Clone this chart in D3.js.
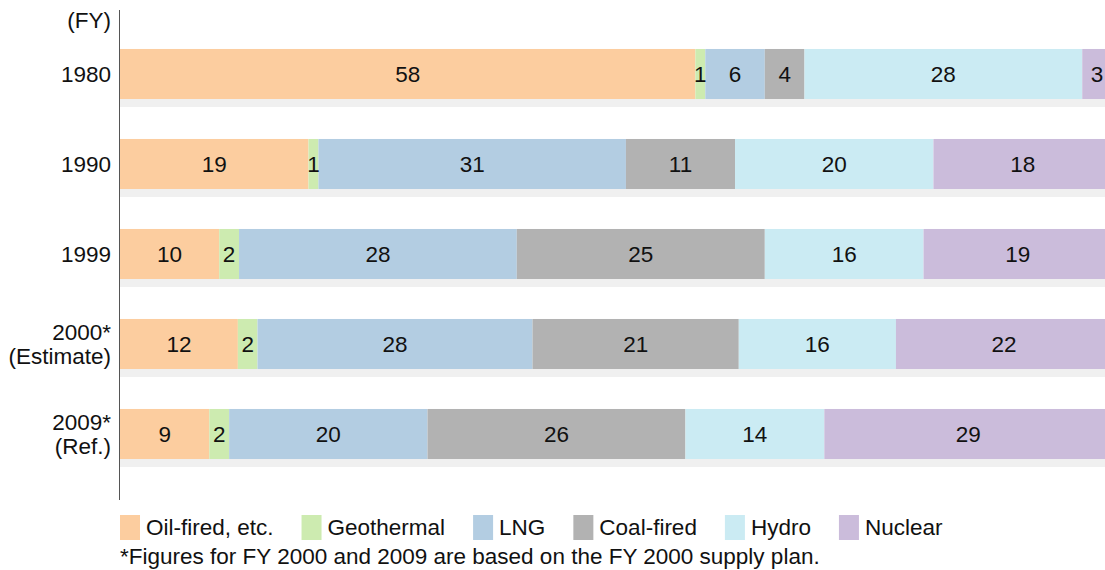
<!DOCTYPE html>
<html>
<head>
<meta charset="utf-8">
<script src="https://cdn.jsdelivr.net/npm/d3@7"></script>
<style>
  body { margin: 0; background: #fff; }
  svg { font-family: "Liberation Sans", Arial, sans-serif; }
</style>
</head>
<body>
<div id="chart"></div>
<script>
// fiscal years, with the second line of their labels
const years = ['1980', '1990', '1999', '2000*', '2009*'];
const yearNotes = ['', '', '', '(Estimate)', '(Ref.)'];

// series names and colours
const sources = ['Oil-fired, etc.', 'Geothermal', 'LNG', 'Coal-fired', 'Hydro', 'Nuclear'];
const colors = ['#fccd9f', '#cdebb0', '#b3cde2', '#b2b2b2', '#cbebf3', '#cbbcdb'];

// shares (%) per source, one value per year
const oil        = [58, 19, 10, 12,  9];
const geothermal = [ 1,  1,  2,  2,  2];
const lng        = [ 6, 31, 28, 28, 20];
const coal       = [ 4, 11, 25, 21, 26];
const hydro      = [28, 20, 16, 16, 14];
const nuclear    = [ 3, 18, 19, 22, 29];

const footnote = '*Figures for FY 2000 and 2009 are based on the FY 2000 supply plan.';

const series = [oil, geothermal, lng, coal, hydro, nuclear];
const data = years.map((y, i) => {
    const row = { year: y };
    sources.forEach((s, k) => row[s] = series[k][i]);
    return row;
});

const width = 1105, height = 570;
const left = 120;
const fontSize = 22.5;

const svg = d3.select('#chart').append('svg')
    .attr('width', width)
    .attr('height', height);

const x = d3.scaleLinear([0, 1], [left, left + 992]);
const y = d3.scaleBand(years, [29, 479]).paddingInner(0.444).paddingOuter(0.222);
const color = d3.scaleOrdinal(sources, colors);

// each row is normalised to 100 %
const stacked = d3.stack().keys(sources).offset(d3.stackOffsetExpand)(data);

// light shadow strip under each bar
svg.append('g').selectAll('rect')
    .data(years)
    .join('rect')
    .attr('x', left)
    .attr('y', d => y(d) + y.bandwidth())
    .attr('width', width - left)
    .attr('height', 8)
    .attr('fill', '#f0f0f0');

const groups = svg.append('g').selectAll('g')
    .data(stacked)
    .join('g')
    .attr('fill', d => color(d.key));

groups.selectAll('rect')
    .data(d => d)
    .join('rect')
    .attr('x', d => x(d[0]))
    .attr('y', d => y(d.data.year))
    .attr('width', d => x(d[1]) - x(d[0]))
    .attr('height', y.bandwidth());

// value labels centred in each segment
stacked.forEach(layer => {
    svg.append('g').selectAll('text')
        .data(layer)
        .join('text')
        .attr('x', d => (x(d[0]) + x(d[1])) / 2)
        .attr('y', d => y(d.data.year) + y.bandwidth() / 2)
        .attr('dy', '0.35em')
        .attr('text-anchor', 'middle')
        .attr('font-size', fontSize)
        .attr('fill', '#111')
        .text(d => d.data[layer.key]);
});

// y axis line
svg.append('line')
    .attr('x1', left - 0.5).attr('x2', left - 0.5)
    .attr('y1', 10).attr('y2', 500)
    .attr('stroke', '#555')
    .attr('stroke-width', 1);

// year labels
const yLabels = svg.append('g')
    .attr('font-size', fontSize)
    .attr('fill', '#111')
    .attr('text-anchor', 'end');

years.forEach((yr, i) => {
    const cy = y(yr) + y.bandwidth() / 2;
    if (yearNotes[i]) {
        yLabels.append('text').attr('x', 111).attr('y', cy - 12).attr('dy', '0.35em').text(yr);
        yLabels.append('text').attr('x', 111).attr('y', cy + 12).attr('dy', '0.35em').text(yearNotes[i]);
    } else {
        yLabels.append('text').attr('x', 111).attr('y', cy).attr('dy', '0.35em').text(yr);
    }
});
yLabels.append('text').attr('x', 111).attr('y', 20).attr('dy', '0.35em').text('(FY)');

// legend, laid out by text length
const legend = svg.append('g').attr('font-size', fontSize).attr('fill', '#111');
let lx = left;
sources.forEach(s => {
    legend.append('rect')
        .attr('x', lx).attr('y', 515)
        .attr('width', 20).attr('height', 25)
        .attr('fill', color(s));
    const t = legend.append('text')
        .attr('x', lx + 26).attr('y', 527.5).attr('dy', '0.35em')
        .text(s);
    lx += 26 + t.node().getComputedTextLength() + 28;
});

svg.append('text')
    .attr('x', left).attr('y', 556).attr('dy', '0.35em')
    .attr('font-size', fontSize)
    .attr('fill', '#111')
    .text(footnote);
</script>
</body>
</html>
